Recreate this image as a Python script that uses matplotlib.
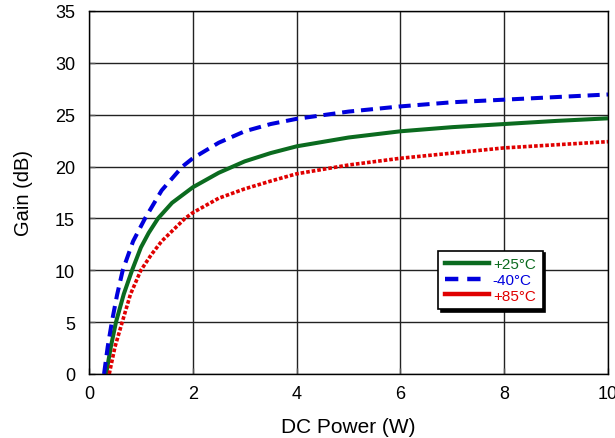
import matplotlib
matplotlib.use("Agg")
import matplotlib.pyplot as plt
from matplotlib.lines import Line2D

plt.rcParams['font.family'] = ['Liberation Sans', 'DejaVu Sans']

# +25°C
x_25 = [0.33, 0.42, 0.52, 0.67, 0.83, 1.0, 1.15, 1.33, 1.6, 2.0, 2.5, 3.0, 3.5, 4.0, 5.0, 6.0, 7.0, 8.0, 9.0, 10.0]
y_25 = [0.0, 2.6, 5.0, 7.7, 10.0, 12.2, 13.6, 15.0, 16.5, 18.0, 19.4, 20.5, 21.3, 21.95, 22.8, 23.4, 23.8, 24.1, 24.4, 24.65]
# -40°C
x_m40 = [0.29, 0.36, 0.44, 0.54, 0.65, 0.85, 1.08, 1.4, 1.8, 2.0, 2.5, 3.0, 3.5, 4.0, 5.0, 6.0, 7.0, 8.0, 9.0, 10.0]
y_m40 = [0.0, 2.6, 5.0, 7.6, 10.0, 12.8, 15.0, 17.7, 20.0, 20.8, 22.3, 23.4, 24.1, 24.6, 25.3, 25.8, 26.2, 26.45, 26.7, 26.95]
# +85°C
x_85 = [0.39, 0.5, 0.64, 0.8, 1.0, 1.2, 1.4, 1.85, 2.0, 2.5, 3.0, 3.5, 4.0, 5.0, 6.0, 7.0, 8.0, 9.0, 10.0]
y_85 = [0.0, 2.6, 5.0, 7.7, 10.0, 11.5, 12.8, 15.0, 15.55, 16.95, 17.85, 18.6, 19.3, 20.15, 20.8, 21.3, 21.8, 22.1, 22.4]

labels = ['+25°C', '-40°C', '+85°C']
colors = ['#0b6b1f', '#0000dd', '#e00000']

fig = plt.figure(figsize=(6.15, 4.39), dpi=100)
ax = fig.add_axes([0.1447, 0.1458, 0.8439, 0.8269])

ax.plot(x_25, y_25, color=colors[0], lw=2.9, solid_capstyle='butt', solid_joinstyle='round')
ax.plot(x_m40, y_m40, color=colors[1], lw=2.9, linestyle=(0, (3.0, 1.7)))
ax.plot(x_85, y_85, color=colors[2], lw=2.6, linestyle=(0, (1.0, 0.55)))

ax.set_xlim(0, 10)
ax.set_ylim(0, 35)
ax.set_xticks([0, 2, 4, 6, 8, 10])
ax.set_yticks([0, 5, 10, 15, 20, 25, 30, 35])
ax.grid(True, color='#222222', lw=1.0)
ax.set_axisbelow(True)
for s in ax.spines.values():
    s.set_color('black')
    s.set_linewidth(1.0)
ax.tick_params(direction='in', length=4, width=1, colors='#555555', labelcolor='black', labelsize=13)
ax.tick_params(axis='y', pad=10)
ax.tick_params(axis='x', pad=8)

ax.set_xlabel('DC Power (W)', fontsize=15, labelpad=11)
ax.set_ylabel('Gain (dB)', fontsize=14.5, labelpad=16)

handles = [Line2D([], [], color=colors[0], lw=3.2),
           Line2D([], [], color=colors[1], lw=3.2, linestyle=(0, (3, 2))),
           Line2D([], [], color=colors[2], lw=3.2)]
leg = ax.legend(handles, labels, loc='lower left', bbox_to_anchor=(0.672, 0.178, 0.2, 0.15),
                fontsize=11, frameon=True, fancybox=False, shadow={'color': 'black', 'alpha': 1},
                handlelength=2.9, handletextpad=0.25, labelspacing=0.1, borderpad=0.45,
                borderaxespad=0)
leg.get_frame().set_edgecolor('black')
leg.get_frame().set_linewidth(1.2)
for t, c in zip(leg.get_texts(), colors):
    t.set_color(c)

fig.savefig('out.png', dpi=100)
